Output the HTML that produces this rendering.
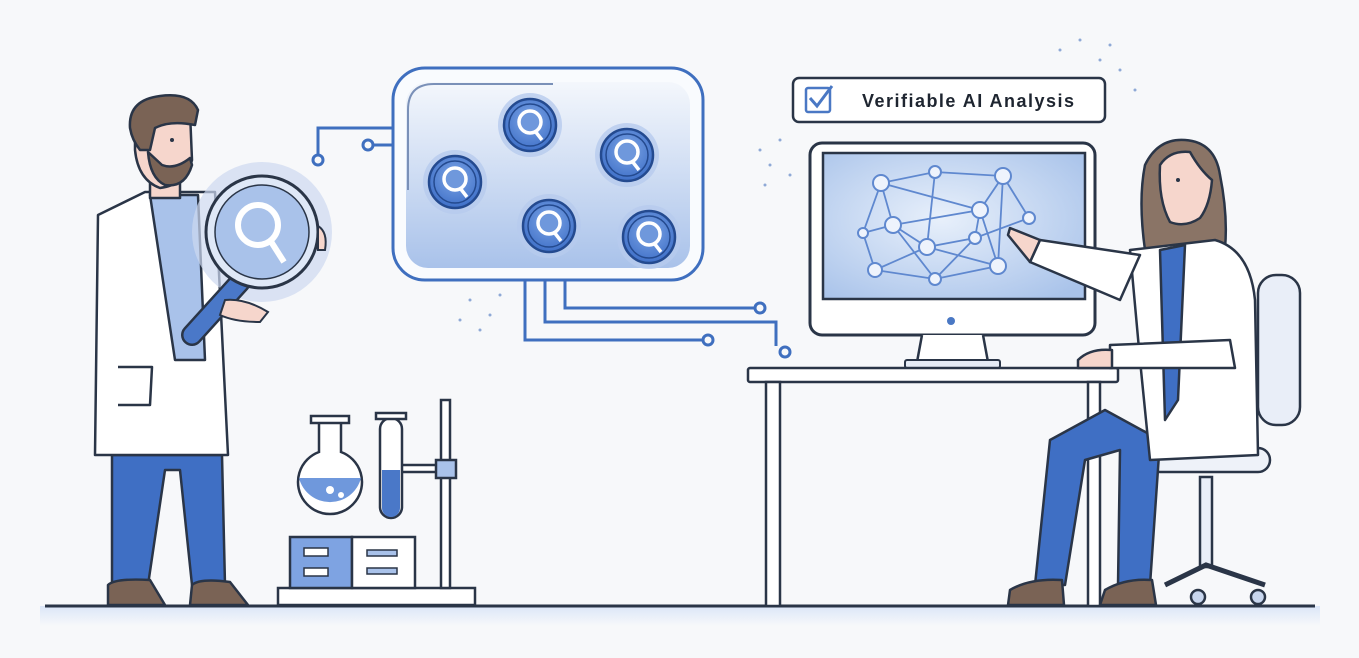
<!DOCTYPE html>
<html><head><meta charset="utf-8"><style>
html,body{margin:0;padding:0;background:#f7f8fa;}
svg{display:block}
text{font-family:"Liberation Sans",sans-serif}
</style></head><body>
<svg width="1359" height="658" viewBox="0 0 1359 658" xmlns="http://www.w3.org/2000/svg">
<defs>
<linearGradient id="tank" x1="0" y1="0" x2="0" y2="1"><stop offset="0" stop-color="#f4f7fc"/><stop offset="1" stop-color="#a9c2ea"/></linearGradient>
<radialGradient id="scr" cx="0.45" cy="0.45" r="0.7"><stop offset="0" stop-color="#e8f0fb"/><stop offset="1" stop-color="#a9c3ea"/></radialGradient>
<radialGradient id="qb" cx="0.5" cy="0.4" r="0.6"><stop offset="0" stop-color="#7ea6e6"/><stop offset="1" stop-color="#3f70c8"/></radialGradient>
<linearGradient id="gl" x1="0" y1="0" x2="0" y2="1"><stop offset="0" stop-color="#dbe6f8"/><stop offset="1" stop-color="#f7f8fa"/></linearGradient>
<g id="q"><circle r="32" fill="#b6cbee" opacity=".8"/><circle r="26" fill="url(#qb)" stroke="#244a8f" stroke-width="2.5"/><circle r="21" fill="none" stroke="#244a8f" stroke-width="1.5"/><circle cy="-3" r="11" fill="#6f98dc" stroke="#fff" stroke-width="3.5"/><line x1="5" y1="6" x2="12" y2="15" stroke="#fff" stroke-width="3.5"/></g>
</defs>
<rect width="1359" height="658" fill="#f7f8fa"/>
<rect x="40" y="606" width="1280" height="20" fill="url(#gl)"/>
<line x1="45" y1="606" x2="1315" y2="606" stroke="#2a3547" stroke-width="3"/>

<g fill="none" stroke="#3f6fbf" stroke-width="3">
<path d="M318 155 V128 H393"/><circle cx="318" cy="160" r="5" fill="#f7f8fa"/>
<path d="M373 145 H393"/><circle cx="368" cy="145" r="5" fill="#f7f8fa"/>
<path d="M565 280 V308 H754"/><circle cx="760" cy="308" r="5" fill="#f7f8fa"/>
<path d="M545 280 V322 H776 V346"/><circle cx="785" cy="352" r="5" fill="#f7f8fa"/>
<path d="M525 280 V340 H702"/><circle cx="708" cy="340" r="5" fill="#f7f8fa"/>
</g>

<rect x="393" y="68" width="310" height="212" rx="32" fill="#f9fbfe" stroke="#3f6fbf" stroke-width="3"/>
<rect x="406" y="82" width="284" height="186" rx="22" fill="url(#tank)"/>
<path d="M408 190 V110 Q408 84 434 84 H553" fill="none" stroke="#7a90b8" stroke-width="2"/>
<use href="#q" x="530" y="125"/>
<use href="#q" x="455" y="182"/>
<use href="#q" x="627" y="155"/>
<use href="#q" x="549" y="226"/>
<use href="#q" x="649" y="237"/>

<rect x="793" y="78" width="312" height="44" rx="6" fill="#fff" stroke="#2a3547" stroke-width="2.5"/>
<rect x="806" y="88" width="24" height="24" rx="2" fill="none" stroke="#4a78c4" stroke-width="2.5"/>
<path d="M810 98 L817 106 L832 86" fill="none" stroke="#4a78c4" stroke-width="3"/>
<text x="862" y="107" font-size="18" font-weight="bold" fill="#1e2530" textLength="212">Verifiable AI Analysis</text>

<rect x="810" y="143" width="285" height="192" rx="12" fill="#fff" stroke="#2a3547" stroke-width="3"/>
<rect x="823" y="153" width="262" height="146" fill="url(#scr)" stroke="#2a3547" stroke-width="2.5"/>
<circle cx="951" cy="321" r="4" fill="#4a78c4"/>
<path d="M922 335 L917 362 H988 L983 335" fill="#fff" stroke="#2a3547" stroke-width="2.5"/>
<rect x="905" y="360" width="95" height="8" rx="2" fill="#e6ecf6" stroke="#2a3547" stroke-width="2"/>
<g stroke="#5f88cf" stroke-width="1.8" fill="none">
<path d="M881 183 L935 172 L1003 176 L980 210 L893 225 L881 183 L863 233 L875 270 L935 279 L998 266 L1003 176 M935 172 L927 247 L998 266 M893 225 L927 247 L975 238 L1029 218 L1003 176 M881 183 L980 210 L998 266 M875 270 L927 247 M893 225 L935 279 L975 238 L980 210 M863 233 L893 225"/>
</g>
<g fill="#eef3fc" stroke="#5f88cf" stroke-width="2">
<circle cx="881" cy="183" r="8"/><circle cx="935" cy="172" r="6"/><circle cx="1003" cy="176" r="8"/><circle cx="980" cy="210" r="8"/><circle cx="893" cy="225" r="8"/><circle cx="863" cy="233" r="5"/><circle cx="927" cy="247" r="8"/><circle cx="975" cy="238" r="6"/><circle cx="1029" cy="218" r="6"/><circle cx="875" cy="270" r="7"/><circle cx="935" cy="279" r="6"/><circle cx="998" cy="266" r="8"/>
</g>

<rect x="748" y="368" width="370" height="14" rx="2" fill="#fff" stroke="#2a3547" stroke-width="2.5"/>
<rect x="766" y="382" width="14" height="224" fill="#fff" stroke="#2a3547" stroke-width="2.5"/>
<rect x="1088" y="382" width="12" height="224" fill="#fff" stroke="#2a3547" stroke-width="2.5"/>

<g stroke="#2a3547" stroke-width="2.5">
<rect x="1258" y="275" width="42" height="150" rx="18" fill="#e9eef8"/>
<rect x="1200" y="477" width="12" height="90" fill="#e9eef8"/>
<path d="M1165 585 L1206 565 L1265 585" fill="none" stroke-width="5"/>
<circle cx="1198" cy="597" r="7" fill="#c8d6ee"/><circle cx="1258" cy="597" r="7" fill="#c8d6ee"/>
<rect x="1148" y="448" width="122" height="24" rx="12" fill="#eef2f9"/>
</g>

<g stroke="#2a3547" stroke-width="2.5" stroke-linejoin="round">
<path d="M1105 410 L1050 440 L1035 585 L1065 585 L1085 460 L1120 450 L1118 585 L1150 585 L1160 440 Z" fill="#3f6fc4"/>
<path d="M1010 590 Q1030 578 1062 580 L1064 605 L1008 605 Z" fill="#7a6355"/>
<path d="M1105 590 Q1125 578 1152 580 L1156 605 L1100 605 Z" fill="#7a6355"/>
<path d="M1145 250 Q1138 200 1145 165 Q1158 138 1185 140 Q1215 142 1220 175 Q1228 215 1225 248 Z" fill="#8a7466"/>
<path d="M1160 165 Q1170 150 1190 152 Q1200 170 1212 180 Q1210 205 1200 218 Q1185 228 1170 222 Q1158 200 1160 165 Z" fill="#f6d6cc"/>
<path d="M1130 250 L1215 240 Q1250 250 1255 300 L1258 455 L1150 460 L1140 360 Z" fill="#fff"/>
<path d="M1160 250 L1185 245 L1178 400 L1165 420 Z" fill="#3f6fc4"/>
<path d="M1140 255 L1040 240 L1030 262 L1120 300 Z" fill="#fff"/>
<path d="M1040 240 L1010 228 L1008 235 L1030 262 Z" fill="#f6d6cc"/>
<path d="M1110 345 L1230 340 L1235 368 L1110 368 Z" fill="#fff"/>
<path d="M1078 360 Q1090 348 1112 350 L1112 368 L1078 368 Z" fill="#f6d6cc"/>
</g>
<circle cx="1178" cy="180" r="2" fill="#2a3547"/>

<g stroke="#2a3547" stroke-width="2.5" stroke-linejoin="round">
<path d="M112 455 L112 585 L148 585 L165 470 L180 470 L192 585 L225 585 L222 455 Z" fill="#3f6fc4"/>
<path d="M108 585 Q115 578 150 580 L165 605 L108 605 Z" fill="#7a6355"/>
<path d="M192 585 Q200 578 230 582 L248 605 L190 605 Z" fill="#7a6355"/>
<path d="M145 192 L215 192 L228 455 L95 455 L98 215 Z" fill="#fff"/>
<path d="M150 195 L198 195 L205 360 L175 360 Z" fill="#a9c2ea"/>
<path d="M118 367 L152 367 L150 405 L118 405" fill="none"/>
<rect x="150" y="170" width="30" height="28" fill="#f6d6cc"/>
<path d="M135 118 Q160 100 190 112 L192 160 Q185 185 160 188 Q138 180 135 150 Z" fill="#f6d6cc"/>
<path d="M130 128 Q128 100 160 96 Q190 92 198 110 L195 125 Q170 120 155 128 L150 150 L140 150 Q132 140 130 128 Z" fill="#7a6355"/>
<path d="M148 152 Q150 178 165 185 Q185 188 192 165 L190 158 Q175 170 162 165 Z" fill="#7a6355"/>
</g>
<circle cx="172" cy="140" r="2" fill="#2a3547"/>
<circle cx="262" cy="232" r="70" fill="#cdd9ef" opacity=".7"/>
<line x1="240" y1="282" x2="192" y2="335" stroke="#2a3547" stroke-width="22" stroke-linecap="round"/>
<line x1="240" y1="282" x2="192" y2="335" stroke="#4a78c8" stroke-width="17" stroke-linecap="round"/>
<circle cx="262" cy="232" r="56" fill="#dfe8f7" stroke="#2a3547" stroke-width="3"/>
<circle cx="262" cy="232" r="47" fill="#a9c2ea" stroke="#2a3547" stroke-width="1.5"/>
<circle cx="258" cy="225" r="20" fill="none" stroke="#fff" stroke-width="6"/>
<line x1="270" y1="240" x2="284" y2="262" stroke="#fff" stroke-width="6"/>
<path d="M225 300 Q245 298 268 312 L260 322 Q235 322 220 315 Z" fill="#f6d6cc" stroke="#2a3547" stroke-width="2"/>
<path d="M318 226 Q328 232 325 250 L318 250 Z" fill="#f6d6cc" stroke="#2a3547" stroke-width="2"/>

<g stroke="#2a3547" stroke-width="2.5">
<rect x="278" y="588" width="197" height="17" fill="#fff"/>
<rect x="290" y="537" width="62" height="51" fill="#7ea3e2"/>
<rect x="352" y="537" width="63" height="51" fill="#fff"/>
<rect x="304" y="548" width="24" height="8" fill="#fff" stroke-width="1.5"/><rect x="304" y="568" width="24" height="8" fill="#fff" stroke-width="1.5"/>
<rect x="367" y="550" width="30" height="6" fill="#a9c2ea" stroke-width="1.5"/><rect x="367" y="568" width="30" height="6" fill="#a9c2ea" stroke-width="1.5"/>
<rect x="441" y="400" width="9" height="188" fill="#fff"/>
<rect x="390" y="465" width="60" height="7" fill="#fff"/>
<rect x="436" y="460" width="20" height="18" fill="#a9c2ea"/>
<path d="M319 420 V452 A32 32 0 1 0 341 452 V420 Z" fill="#fff"/>
<rect x="311" y="416" width="38" height="7" fill="#fff"/>
<path d="M299 478 H361 A32 32 0 0 1 299 478 Z" fill="#6f98dc" stroke="none"/>
<rect x="380" y="418" width="22" height="100" rx="11" fill="#fff"/>
<rect x="376" y="413" width="30" height="6" fill="#fff"/>
<path d="M382 470 H400 V508 A9 9 0 0 1 382 508 Z" fill="#4a78c8" stroke="none"/>
</g>
<circle cx="330" cy="490" r="4" fill="#fff"/><circle cx="341" cy="495" r="3" fill="#fff"/>

<g fill="#8fa9d6">
<circle cx="1060" cy="50" r="1.5"/><circle cx="1080" cy="40" r="1.5"/><circle cx="1100" cy="60" r="1.5"/><circle cx="1120" cy="70" r="1.5"/><circle cx="1135" cy="90" r="1.5"/><circle cx="1110" cy="45" r="1.5"/>
<circle cx="760" cy="150" r="1.5"/><circle cx="770" cy="165" r="1.5"/><circle cx="780" cy="140" r="1.5"/><circle cx="790" cy="175" r="1.5"/><circle cx="765" cy="185" r="1.5"/>
<circle cx="470" cy="300" r="1.5"/><circle cx="490" cy="315" r="1.5"/><circle cx="480" cy="330" r="1.5"/><circle cx="500" cy="295" r="1.5"/><circle cx="460" cy="320" r="1.5"/>
</g>
</svg>
</body></html>
